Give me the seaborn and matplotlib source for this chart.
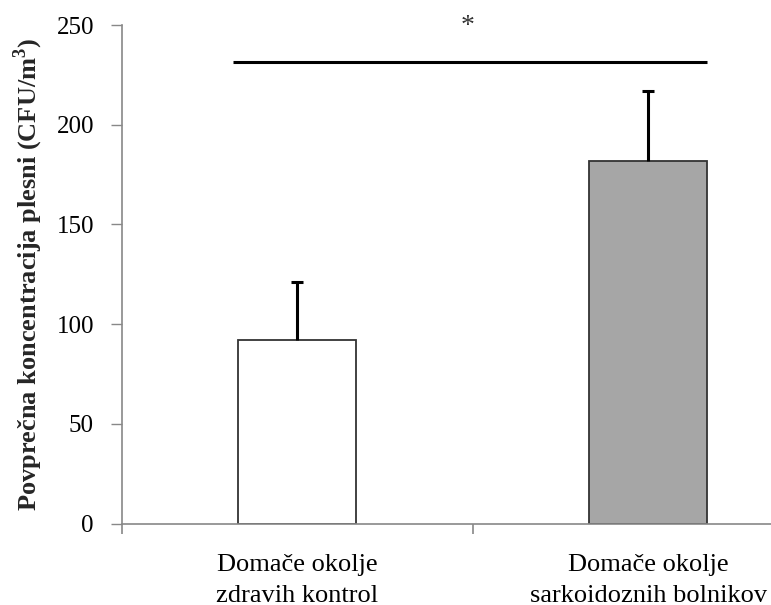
import matplotlib
matplotlib.use('Agg')
import numpy as np
import pandas as pd
import matplotlib.pyplot as plt
import seaborn as sns

# ===============================
# 数据
# ===============================
categories = ["Domače okolje\nzdravih kontrol", "Domače okolje\nsarkoidoznih bolnikov"]
means = [92, 182]
errors = [29, 35]
bar_colors = ["#ffffff", "#a6a6a6"]
sig_level = 231.5
sig_label = "*"
y_label = "Povprečna koncentracija plesni (CFU/m$^{\\mathregular{3}}$)"

sns.set_theme(style="white")
plt.rcParams['font.family'] = ['Liberation Serif', 'DejaVu Serif']
plt.rcParams['mathtext.fontset'] = 'custom'
plt.rcParams['mathtext.rm'] = 'Liberation Serif'
plt.rcParams['mathtext.bf'] = 'Liberation Serif:bold'

df = pd.DataFrame({"cat": categories, "val": means})

fig = plt.figure(figsize=(7.71, 6.05), dpi=100)
ax = fig.add_axes([121.7 / 771, 1 - 523.5 / 605, 702 / 771, 498.5 / 605])

sns.barplot(data=df, x="cat", y="val", hue="cat", palette=bar_colors,
            width=0.336, edgecolor="#333333", linewidth=1.3,
            legend=False, ax=ax, errorbar=None, saturation=1)

# 误差线（只画上半部分）
eb = ax.errorbar(range(len(means)), means, yerr=[[0] * len(errors), errors],
                 fmt="none", ecolor="black", elinewidth=2.2, capsize=4, capthick=2.2)
eb[1][0].set_visible(False)   # 去掉下方的帽

# 显著性标记
ax.plot([-0.183, 1.168], [sig_level, sig_level], color="black", lw=2.2,
        solid_capstyle="butt", clip_on=False)
ax.text(0.484, 249, sig_label, ha="center", va="center", fontsize=20,
        color="#333333")

ax.set_xlim(-0.5, 1.5)
ax.set_ylim(0, 250)
ax.set_yticks([0, 50, 100, 150, 200, 250])
ax.tick_params(axis="y", labelsize=18, length=8, width=1, color="#888888",
               left=True, pad=12, labelcolor="black")
ax.set_xticks([0, 1])
ax.set_xticklabels(categories, fontsize=19, linespacing=1.55)
ax.tick_params(axis="x", length=0, pad=22, labelcolor="black")
ax.set_xticks([-0.5, 0.5, 1.5], minor=True)
ax.tick_params(axis="x", which="minor", length=7, width=1.2, color="#888888",
               bottom=True)

for side in ["top", "right"]:
    ax.spines[side].set_visible(False)
for side in ["left", "bottom"]:
    ax.spines[side].set_color("#888888")
    ax.spines[side].set_linewidth(1.2)

ax.set_xlabel("")
ax.set_ylabel(y_label, fontsize=19, fontweight="bold", labelpad=8)

fig.savefig("out.png", dpi=100)
